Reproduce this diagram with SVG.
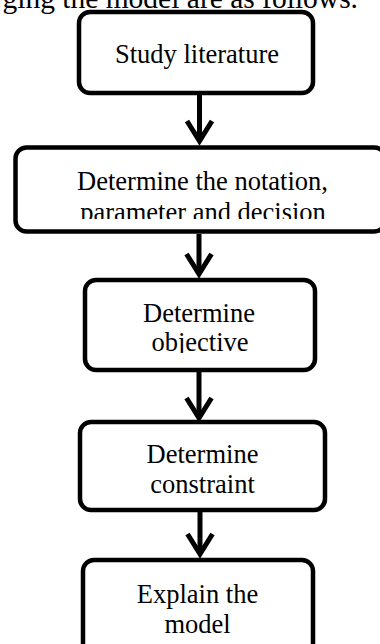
<svg xmlns="http://www.w3.org/2000/svg" width="380" height="644" viewBox="0 0 380 644">
<style>
  .box { fill: #fff; stroke: #000; stroke-width: 4.5; }
  .lbl { font-family: "Liberation Serif", "Times New Roman", serif; font-size: 26.5px; fill: #000; text-anchor: middle; }
  .para { font-family: "Liberation Serif", "Times New Roman", serif; font-size: 29.5px; fill: #000; text-anchor: end; }
  .conn { stroke: #000; stroke-width: 5; fill: none; }
</style>
<defs>
  <marker id="chev" markerUnits="userSpaceOnUse" markerWidth="30" markerHeight="30" viewBox="-26 -15 30 30" refX="0" refY="0" orient="auto" overflow="visible">
    <path d="M-20,-12.5 L0,0 L-20,12.5" fill="none" stroke="#000" stroke-width="5" stroke-linejoin="miter"/>
  </marker>
  <clipPath id="clip2"><rect x="18" y="150" width="362" height="69"/></clipPath>
  <clipPath id="clip3"><rect x="87" y="282" width="226" height="71"/></clipPath>
</defs>
<text class="para" x="358" y="8">ging the model are as follows.</text>
<g id="connectors">
  <line class="conn" x1="199.5" y1="95" x2="199.5" y2="141" marker-end="url(#chev)"/>
  <line class="conn" x1="199" y1="234" x2="199" y2="274" marker-end="url(#chev)"/>
  <line class="conn" x1="199" y1="372" x2="199" y2="418" marker-end="url(#chev)"/>
  <line class="conn" x1="200" y1="512" x2="200" y2="554" marker-end="url(#chev)"/>
</g>
<g id="n1">
  <rect class="box" x="79" y="12" width="234" height="81" rx="11"/>
  <text class="lbl" x="197" y="63">Study literature</text>
</g>
<g id="n2">
  <rect class="box" x="15.5" y="147.5" width="370" height="84" rx="11"/>
  <g clip-path="url(#clip2)">
    <text class="lbl" x="202.5" y="190">Determine the notation,</text>
    <text class="lbl" x="203" y="221">parameter and decision</text>
  </g>
</g>
<g id="n3">
  <rect class="box" x="85" y="280" width="230" height="90" rx="11"/>
  <g clip-path="url(#clip3)">
    <text class="lbl" x="199" y="322">Determine</text>
    <text class="lbl" x="200" y="351">objective</text>
  </g>
</g>
<g id="n4">
  <rect class="box" x="80" y="422" width="245" height="88" rx="11"/>
  <text class="lbl" x="202.5" y="463">Determine</text>
  <text class="lbl" x="202.5" y="493">constraint</text>
</g>
<g id="n5">
  <rect class="box" x="83" y="560" width="230" height="100" rx="11"/>
  <text class="lbl" x="197.5" y="603">Explain the</text>
  <text class="lbl" x="197.5" y="633">model</text>
</g>
</svg>
